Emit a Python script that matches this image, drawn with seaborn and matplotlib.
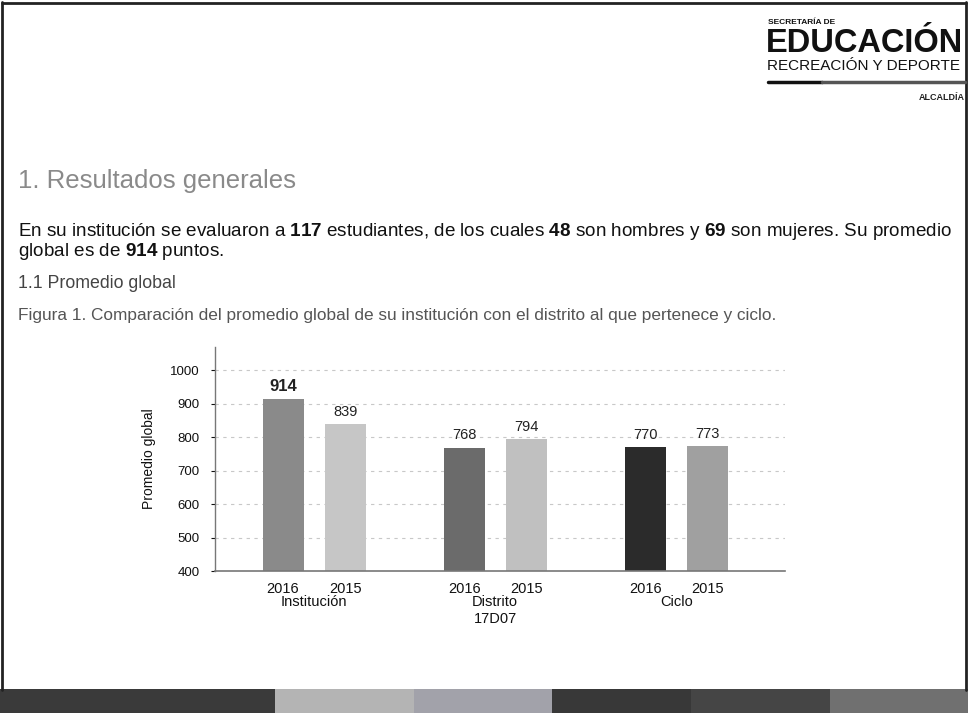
import numpy as np
import pandas as pd
import matplotlib
matplotlib.use("Agg")
import matplotlib.pyplot as plt
import matplotlib.transforms as mtransforms
from matplotlib.patches import Rectangle
from matplotlib.lines import Line2D
import seaborn as sns

# --- DATA ---
groups = ["Institución", "Distrito\n17D07", "Ciclo"]
years = ["2016", "2015"]
values_2016 = [914, 768, 770]
values_2015 = [839, 794, 773]
colors_2016 = ["#8a8a8a", "#6b6b6b", "#2b2b2b"]
colors_2015 = ["#c6c6c6", "#c0c0c0", "#a0a0a0"]
y_ticks = [400, 500, 600, 700, 800, 900, 1000]

df = pd.DataFrame(
    {
        "group": groups * 2,
        "year": [years[0]] * 3 + [years[1]] * 3,
        "value": values_2016 + values_2015,
    }
)

# --- STYLE ---
sns.set_style("white")
plt.rcParams["font.family"] = ["Liberation Sans", "DejaVu Sans"]
plt.rcParams["mathtext.fontset"] = "custom"
plt.rcParams["mathtext.rm"] = "Liberation Sans"
plt.rcParams["mathtext.bf"] = "Liberation Sans:bold"
plt.rcParams["mathtext.it"] = "Liberation Sans:italic"

W, H = 968, 713
fig = plt.figure(figsize=(W / 100, H / 100), dpi=100)


def fx(px):
    return px / W


def fy(py):
    return 1 - py / H


# --- PAGE DECORATION ---
fig.add_artist(Line2D([fx(2), fx(2)], [fy(2), fy(690)], color="#222222", lw=2))
fig.add_artist(Line2D([fx(966), fx(966)], [fy(2), fy(690)], color="#222222", lw=2))
fig.add_artist(Line2D([fx(2), fx(966)], [fy(3), fy(3)], color="#222222", lw=2))

band = [(0, 275, "#3a3a3a"), (275, 414, "#b4b4b4"), (414, 552, "#a2a2aa"),
        (552, 691, "#383838"), (691, 830, "#454545"), (830, 968, "#707070")]
for x0, x1, c in band:
    fig.add_artist(Rectangle((fx(x0), 0), fx(x1) - fx(x0), fy(689), color=c,
                             transform=fig.transFigure, lw=0))

# logo
fig.text(fx(768), fy(22), "SECRETARÍA DE", fontsize=6, fontweight="bold",
         color="#111111", va="center", ha="left")
fig.text(fx(766), fy(43), "EDUCACIÓN", fontsize=23.5, fontweight="bold",
         color="#111111", va="center", ha="left")
fig.text(fx(767), fy(66), "RECREACIÓN Y DEPORTE", fontsize=11,
         color="#111111", va="center", ha="left")
fig.add_artist(Line2D([fx(768), fx(822)], [fy(82), fy(82)], color="#111111", lw=2.5))
fig.add_artist(Line2D([fx(822), fx(965)], [fy(82), fy(82)], color="#555555", lw=2.5))
fig.text(fx(965), fy(98), "ALCALDÍA", fontsize=6.5, fontweight="bold",
         color="#222222", va="center", ha="right")

# headings and text
fig.text(fx(18), fy(181), "1. Resultados generales", fontsize=18.5,
         color="#8a8a8a", va="center", ha="left")
fig.text(fx(18), fy(231),
         "En su institución se evaluaron a $\\mathbf{117}$ estudiantes, de los cuales "
         "$\\mathbf{48}$ son hombres y $\\mathbf{69}$ son mujeres. Su promedio",
         fontsize=13.6, color="#111111", va="center", ha="left")
fig.text(fx(18), fy(251), "global es de $\\mathbf{914}$ puntos.", fontsize=13.6,
         color="#111111", va="center", ha="left")
fig.text(fx(18), fy(283), "1.1 Promedio global", fontsize=12.8,
         color="#444444", va="center", ha="left")
fig.text(fx(18), fy(315),
         "Figura 1. Comparación del promedio global de su institución con el distrito "
         "al que pertenece y ciclo.",
         fontsize=12.4, color="#555555", va="center", ha="left")

# --- CHART ---
ax = fig.add_axes([fx(215), fy(571), fx(785) - fx(215), (571 - 347) / H])
sns.barplot(data=df, x="group", y="value", hue="year", order=groups,
            hue_order=years, width=0.685, gap=0.34, dodge=True,
            legend=False, ax=ax)

bar_colors = [colors_2016, colors_2015]
centers, labels = [], []
for cont, cols, yr in zip(ax.containers, bar_colors, years):
    for patch, c in zip(cont.patches, cols):
        patch.set_facecolor(c)
        patch.set_edgecolor("none")
        centers.append(patch.get_x() + patch.get_width() / 2)
        labels.append(yr)
    ax.bar_label(cont, fmt="%d", padding=4, fontsize=10.5, color="#222222")

# bigger label for the institution 2016 bar
for t in ax.texts:
    if t.get_text() == str(values_2016[0]):
        t.set_fontsize(12)
        t.set_fontweight("bold")

ax.set_ylim(400, 1070)
ax.set_xlim(-0.547, 2.60)
ax.set_yticks(y_ticks)
ax.set_xticks(centers, labels)
ax.tick_params(axis="x", length=0, pad=8, labelsize=10.5, colors="#111111")
ax.tick_params(axis="y", length=3, width=0.8, pad=8, labelsize=9.5,
               colors="#111111", left=True, direction="out")
ax.yaxis.grid(True, linestyle=(0, (3, 4)), color="#c8c8c8", lw=0.8)
ax.set_axisbelow(True)
ax.set_xlabel("")
ax.set_ylabel("Promedio global", fontsize=10, color="#111111", labelpad=10)

sns.despine(ax=ax, top=True, right=True)
ax.spines["left"].set_color("#777777")
ax.spines["bottom"].set_color("#777777")
ax.spines["left"].set_linewidth(1.0)
ax.spines["bottom"].set_linewidth(1.2)

trans = mtransforms.blended_transform_factory(ax.transData, ax.transAxes)
for i, g in enumerate(groups):
    ax.text(i, -0.105, g, transform=trans, ha="center", va="top",
            fontsize=10.5, color="#111111", linespacing=1.3)

fig.savefig("out.png", dpi=100)
